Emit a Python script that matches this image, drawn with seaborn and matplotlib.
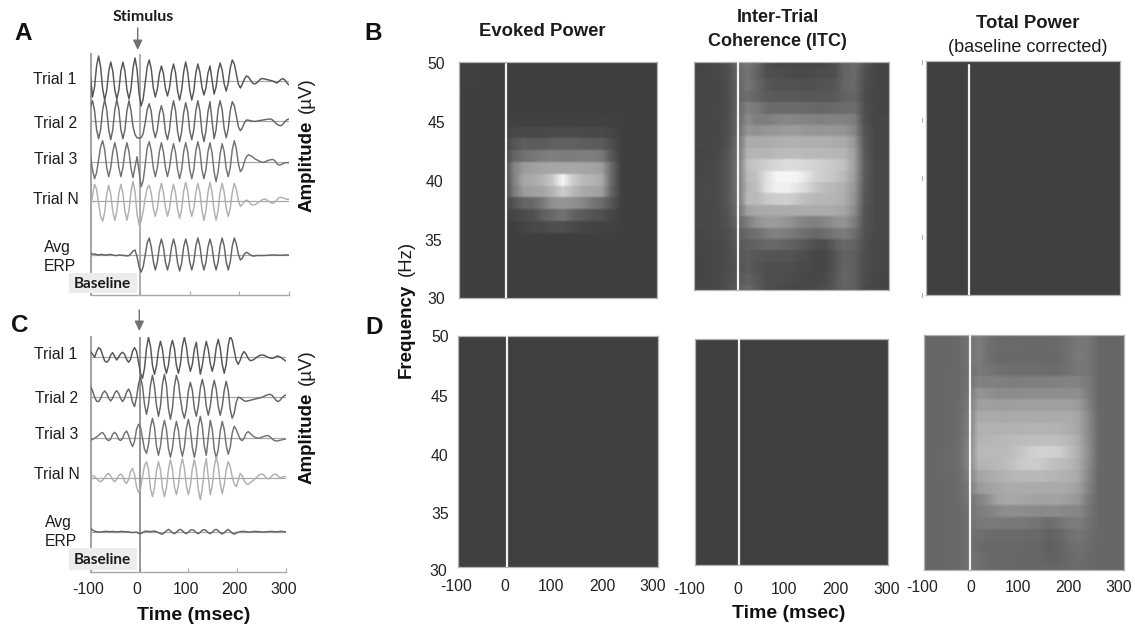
import numpy as np
import matplotlib
matplotlib.use("Agg")
import matplotlib.pyplot as plt
from matplotlib.transforms import ScaledTranslation
import seaborn as sns

# ---------- data: waveforms (deviation from each trial's baseline) ----------
A_trial1 = [4,-16,-6,15,25,14,-8,-19,-9.5,9.5,19,10,-9,-18,-9,10,19,10,-9,-18,-8,13,23,11,-13,-25,-18,-2,14,21,12,-7,-16,-8,7,15,7.5,-7.5,-15,-7,9,17,8,-10,-19,-9,9,19,9,-9,-19,-10,8,17,9,-6,-14,-7,8,15,1,-13,-6,10,18,11,-3,-10,-2,13,21,17,7,-3,-7,-3,2,5,4,1,-2,-3,-2,0,2,2.5,2,1.5,1,0.5,0,-1,-2,-0.5,1.5,2.5,1,-2,-4]
A_trial2 = [14,20,10,-9,-18,-9,11,21,11,-9,-19,-9,11,21,11,-9,-18,-9,10,20,10,-6,-14,-17,-17.5,-17,-13,-2,11,17,9,-9,-17,-9,7,15,7,-11,-19,-9,10,20,10,-11,-21,-11,8,18,9,-10,-19,-9,10,20,10,-11,-21,-10,9,19,0,-18,-9,11,20,11,-8,-17,-8,10,19,15,5,-6,-10,-7,-2,0.7,0.5,0,-0.5,-0.7,-0.5,0,0.3,0.6,1,1.3,1.6,1.7,0.5,-1.5,-3.5,-4.7,-5,-3.5,-1,1,1.7]
A_trial3 = [6,-8,-17,-11,2,15,21,12,-6,-15,-6,10,19,10,-6,-15,-6,10,19,10,-7,-16,-5,5,-10,-25,-19,-3,14,20,11,-6,-15,-6,10,19,10,-6,-15,-6,9,18,9,-8,-17,-8,10,19,10,-8,-17,-8,11,20,11,-8,-17,-8,10,19,9,-10,-20,-10,8,18,10,-7,-15,-6,12,21,13,-2,-10,-7,0,5,7,6,5,3,2,1,0,-0.7,-0.3,0.6,1.5,2,2.3,1,-2,-3.3,-3,-2,-1,-1,-1]
A_trialN = [-8,6,17,12,-2,-15,-20,-11,7,16,7,-10,-19,-10,8,17,8,-10,-19,-9,10,20,9,-13,-24,-20,-10,3,13,16,8,-7,-15,-7,9,18,9,-6,-15,-7,8,17,8,-8,-17,-8,10,19,10,-7,-15,-7,9,18,9,-9,-19,-9,9,19,9,-9,-19,-9,9,18,9,-7,-15,-7,9,18,12,1,-5,-3,0,1.3,0,-2.5,-3.7,-3.5,-2.5,-1,0.5,1.7,2.3,1.5,0,-1.5,-2,-1,1.5,3.5,4,3.5,2.5,2,2]
A_avg = [1.5,1,1,0.5,0,0.5,0.5,0,0,0.5,0.5,0,-0.5,-0.5,0,0,-0.5,-0.5,-1,-0.5,1.5,4,5,-2,-12,-17,-12,0,12,17,8,-6,-15,-7,8,16,8,-7,-15,-7,8,16,8,-8,-16,-8,8,16,8,-7,-15,-7,9,17,9,-7,-15,-7,8,16,8,-7,-15,-7,9,17,9,-7,-15,-7,9,17,11,1,-5,-3,1,2.7,1.5,0,-1,-1,-0.5,-0.5,-0.5,-0.5,-0.5,-0.3,-0.3,0,0,0,0,-0.3,-0.3,0,0,0,-0.3]

C_trial1 = [5.7,3,0,6,9.7,8,2,-3.5,-5,-3,2,4.7,1,-2.7,0,3.5,5,3,-2,-5,-2,6,9.7,6,-5,-16,-21,-11,9,20,11,-8,-17,-9,7,16,8,-8,-16,-8,9,17,9,-8,-16,-7,11,20,11,-5,-14,-7,8,15,-1,-17,-8,6,16,8,-6,-14,-6,10,18,9,-7,-16,-7,12,21,17,7,-3,-7,-3,3,5.7,3,-1,-3.3,-3,-2,-0.5,1,2,2.3,2,1,0,-0.7,-1,-0.5,0.7,1.3,0.5,-1,-2.5,-3.7]
C_trial2 = [10.7,6,0,-4,-4.3,-1,4,6.3,4,-1,-3.7,-1,4,6.7,4,-1,-4.3,-1,5,8.3,4,-5,-9.3,0,13,21,11,-7,-17,-7,12,22,11,-8,-19,-9,13,23,12,-11,-22,-11,11,22,15,-1,-14,-21,-12,6,15,7,-11,-19,-9,9,18,9,-9,-18,-9,8,17,8,-9,-18,-9,7,16,7,-12,-21,-16,-5,0,-0.5,-2,-3.5,-4,-3.5,-3,-2.5,-2,-1.5,-1,-0.5,0,1,2,2.7,3,2,-0.5,-3,-4.3,-3,-0.5,1.5,2.3]
C_trial3 = [-1.7,-1,0,1.5,3,5,5.7,3,-1,-2.3,-1,4,6,4,-1,-2.3,0,5,7.3,3,-4,-8.3,-3,9,14,11,0,-11,-15,-6,11,20,11,-8,-17,-8,9,18,9,-10,-19,-10,7,17,8,-9,-18,-9,10,19,9,-9,-19,-9,12,22,12,-8,-17,1,18,9,-11,-20,-11,7,17,9,-7,-16,-9,5,12,9,4,-1,-2.3,0,5,6.7,5,3,1.5,0.5,0,0.5,1.2,2,2.5,2.7,1.5,-0.5,-2,-2.7,-2.5,-2,-1.5,-1,-0.7]
C_trialN = [3,2,1,-1,-3,-4,-2.5,0,3,4.3,2,-2,-4,-2,2,3.7,2,-4,-5.7,-2,6,9.3,3,-9,-14.7,-11,1,12,16,8,-11,-19,-10,7,16,8,-10,-19,-10,8,18,9,-9,-17,-8,10,19,10,-8,-17,-8,9,18,8,-12,-22,-11,9,19,1,-17,-8,11,21,12,-6,-16,-7,8,16,11,1,-6,-9,-3,4.3,2,-3,-6,-6.7,-5,-3.5,-2,0,2,3.2,3.7,2.5,0,-1.3,0,2,3.2,3.7,1.5,0,0.5,1,1.3]
C_avg = [3.3,1.5,0.5,0,-0.3,-0.3,0,0.3,0.3,0,0,0.3,0,-0.3,0,0.3,0.3,0,0,-0.3,-0.5,-1,-0.5,-0.5,-1.5,-2,-1,0.3,0.5,0.3,0,0.5,0.5,0,-1,-2,-2.5,-1,1,2.3,1,-1,-2,-0.5,1.5,2.3,1,-1,-2,-0.5,1.5,2,1,-1,-2,-0.5,1.5,2,1,-1,-2,-0.5,1.5,2.3,1,-1,-2.3,-1,1,2.3,0.5,-1.5,-2.5,-1.5,-0.5,0,0.3,0.3,0,-0.3,-0.3,0,0.3,0.3,0,0,-0.3,-0.3,0,0,0.3,0.3,0,0,0,0.3,0.3,0,-0.3]

trial_labels = ["Trial 1", "Trial 2", "Trial 3", "Trial N"]
time_ticks = [-100, 0, 100, 200, 300]
freq_ticks = [50, 45, 40, 35, 30]

# ---------- data: time-frequency maps (grey level; rows 50 Hz -> 30 Hz) ----------
evoked_B = [
 [64]*20, [64]*20, [64]*20, [64]*20, [64]*20,
 [64,64,64,64,64,66,66,66,66,66,66,66,66,66,66,65,64,64,64,64],
 [64,64,64,64,64,72,74,74,74,76,76,76,74,74,74,70,64,64,64,64],
 [64,64,64,64,64,85,95,92,92,96,98,98,94,92,92,78,64,64,64,64],
 [64,64,64,64,64,100,112,118,125,128,125,125,128,128,120,88,64,64,64,64],
 [64,64,64,64,64,128,155,160,165,168,168,168,165,165,158,105,64,64,64,64],
 [64,64,64,64,64,125,165,170,180,200,245,205,185,180,170,105,64,64,64,64],
 [64,64,64,64,64,120,155,160,165,180,205,185,170,165,160,100,64,64,64,64],
 [64,64,64,64,64,85,100,105,120,145,150,145,135,120,110,85,64,64,64,64],
 [64,64,64,64,64,70,75,80,95,105,115,100,90,85,80,70,64,64,64,64],
 [64,64,64,64,64,64,68,72,74,80,80,74,70,68,68,66,64,64,64,64],
 [64]*20, [64]*20, [64]*20, [64]*20, [64]*20, [64]*20,
]
itc_B = [
 [70,70,72,80,104,122,105,80,72,72,72,72,72,72,78,100,108,85,70,68],
 [70,70,72,78,100,118,100,80,78,76,74,74,76,78,80,100,106,82,70,68],
 [72,70,70,78,98,118,104,88,82,84,82,80,82,84,86,102,106,80,70,68],
 [70,70,70,78,98,110,100,92,90,90,90,88,88,88,90,98,102,78,70,68],
 [70,70,72,76,100,128,122,108,106,108,108,106,104,104,106,108,110,80,70,68],
 [72,70,72,78,102,138,128,126,132,135,134,132,130,130,130,130,125,82,70,70],
 [72,70,72,78,104,150,145,150,152,155,156,152,150,150,150,148,135,85,72,70],
 [72,72,72,80,108,172,172,172,175,178,178,176,175,175,172,170,150,88,72,70],
 [70,70,72,85,112,180,182,182,185,188,188,185,185,185,182,180,158,90,72,72],
 [72,72,74,86,115,190,198,208,216,220,220,216,210,205,200,192,160,92,74,72],
 [72,72,75,86,115,185,194,225,245,245,245,232,212,204,198,185,155,92,74,72],
 [74,74,75,86,115,180,190,225,240,240,232,218,198,188,184,175,150,90,74,72],
 [74,74,75,86,112,185,186,200,206,208,200,190,185,183,180,174,146,88,74,72],
 [74,72,74,84,110,160,168,170,172,172,172,172,172,172,170,165,138,85,74,72],
 [74,72,74,82,102,125,145,155,155,150,140,130,128,135,145,148,125,85,74,72],
 [72,72,74,78,92,105,112,125,130,125,118,110,105,110,118,125,110,82,74,72],
 [72,72,72,76,88,95,100,105,105,100,95,88,78,78,95,105,100,80,72,70],
 [70,70,72,76,85,92,88,85,85,85,80,78,70,72,85,98,95,78,72,70],
 [70,70,72,76,82,92,85,78,80,80,76,74,70,72,85,100,95,78,72,70],
 [70,70,72,78,85,98,90,78,78,76,74,72,72,75,88,102,95,78,70,68],
 [70,70,72,78,90,105,92,78,76,74,72,72,74,78,88,100,95,75,70,68],
]
total_D = [
 [103,103,103,106,114,125,112,105,105,105,105,105,105,106,112,120,118,104,102,102],
 [103,103,103,106,114,125,112,108,108,106,106,106,106,108,112,120,118,104,102,102],
 [103,103,103,106,114,125,112,106,106,106,106,106,104,106,112,122,118,104,102,102],
 [103,103,104,106,112,122,118,112,110,110,110,110,108,108,114,120,118,104,102,102],
 [103,103,104,106,114,130,130,128,126,126,128,128,128,130,130,130,122,104,102,102],
 [103,103,104,106,116,150,145,140,140,140,142,142,142,142,142,142,125,105,102,102],
 [103,103,104,107,120,160,160,158,158,160,160,160,160,160,160,155,130,105,102,102],
 [103,103,104,107,124,172,172,170,170,172,172,172,172,172,172,165,138,106,102,102],
 [103,103,104,108,126,178,178,178,178,178,180,180,180,178,175,165,138,106,102,102],
 [103,103,105,108,130,180,182,184,186,188,190,192,192,190,185,172,140,106,102,102],
 [104,104,106,110,132,184,186,186,188,195,205,210,210,208,192,175,142,106,102,102],
 [104,104,106,110,132,180,182,186,190,200,205,205,195,190,185,172,140,106,102,102],
 [104,104,105,108,126,165,170,175,180,185,185,185,182,180,176,168,135,105,102,102],
 [104,104,104,108,120,155,162,168,172,172,172,170,170,170,168,160,130,105,102,102],
 [104,104,104,107,116,130,145,165,168,168,165,162,162,162,158,150,122,104,102,102],
 [104,104,104,106,112,125,130,138,142,142,140,138,138,138,135,135,118,104,102,102],
 [103,103,104,106,110,122,122,122,122,122,118,115,108,115,122,125,115,104,102,102],
 [103,103,104,106,110,112,108,108,108,108,105,105,98,102,112,118,110,104,102,102],
 [103,103,104,106,110,108,104,105,105,105,102,102,96,100,108,112,108,104,102,102],
 [103,103,104,106,112,112,106,105,105,104,102,102,98,100,106,110,106,104,102,102],
 [103,103,104,106,114,112,106,104,104,104,104,104,102,102,106,108,106,104,102,102],
]
empty_map = [[64]*20 for _ in range(21)]

# ---------- figure ----------
W, H = 1135, 627
sns.set_theme(style="white")
plt.rcParams["font.family"] = ["Liberation Sans", "DejaVu Sans"]
fig = plt.figure(figsize=(W/100, H/100), dpi=100, facecolor="white")


def ax_px(l, t, r, b, **kw):
    return fig.add_axes([l/W, 1-b/H, (r-l)/W, (b-t)/H], **kw)


def soften(img, dpi):
    """Resampling blur of the source bitmap: wide along time, slight along frequency."""
    out = img.astype(float)
    for axis, k in ((1, 10), (0, 3)):
        pad = [(0, 0)]*3
        pad[axis] = (k, k)
        c = np.cumsum(np.pad(out, pad, mode="edge"), axis=axis)
        hi = np.take(c, np.arange(k + k//2, c.shape[axis] - k + k//2), axis=axis)
        lo = np.take(c, np.arange(k//2, c.shape[axis] - 2*k + k//2), axis=axis)
        out = (hi - lo)/k
    return out, 0, 0


GRID = "#a8a8a8"


def wave_panel(box, zero_col, traces, baselines, colors, labels_on):
    l, t, r, b = box
    ax = ax_px(l, t, r, b)
    ax.set_xlim(-100, 300)
    ax.set_ylim(0, b - t)
    ax.patch.set_alpha(0)
    times = np.linspace(-100, 300, len(traces[0]))
    for vals, base, col in zip(traces, baselines, colors):
        y0 = b - base
        ax.axhline(y0, color="#a8a8a8", lw=0.9, zorder=1)
        sns.lineplot(x=times, y=np.asarray(vals) + y0, ax=ax, color=col, lw=1.05,
                     errorbar=None, zorder=3)
    ax.axvline(0, color=zero_col, lw=1.2, zorder=2)
    for s in ("top", "right"):
        ax.spines[s].set_visible(False)
    ax.spines["left"].set_color("#9a9a9a")
    ax.spines["left"].set_linewidth(1.3)
    ax.spines["bottom"].set_color(GRID)
    ax.spines["bottom"].set_linewidth(1.0)
    ax.set_yticks([])
    ax.set_xticks(time_ticks)
    ax.tick_params(axis="x", direction="in", length=3, color=GRID, width=0.8,
                   labelsize=11.3, labelcolor="#222222", pad=7.5, bottom=True)
    ax.set_xlabel("")
    ax.set_ylabel("")
    if labels_on:
        ax.set_xticklabels([str(v) for v in time_ticks])
        for lab in ax.get_xticklabels():
            lab.set_transform(lab.get_transform() + ScaledTranslation(-2.4/100, 0, fig.dpi_scale_trans))
    else:
        ax.set_xticklabels([])
    return ax


def map_panel(box, data, zero_px, line_top=0.0, xdx=None, ylab=None, blur=True):
    l, t, r, b = box
    ax = ax_px(l, t, r, b)
    sns.heatmap(np.asarray(data, float), ax=ax, cmap="gray", vmin=0, vmax=255, cbar=False,
                xticklabels=False, yticklabels=False)
    if blur:
        ax.collections[0].set_agg_filter(soften)
    ax.set_xlim(0, 20)
    ax.set_ylim(20.5, 0.5)
    ax.axvline((zero_px - l)/(r - l)*20, ymin=0, ymax=1 - line_top/(b - t),
               color="#f2f2f2", lw=1.6, zorder=5)
    for s in ax.spines.values():
        s.set_visible(True)
        s.set_color("#b4b4b4")
        s.set_linewidth(0.9)
    ax.set_xticks([0, 5, 10, 15, 20])
    ax.set_yticks([0.5, 5.5, 10.5, 15.5, 20.5])
    ax.tick_params(axis="both", length=0, labelcolor="#222222", labelsize=11.3)
    ax.tick_params(axis="x", pad=xdx[1] if xdx else 0)
    ax.set_xticklabels([str(v) for v in time_ticks] if xdx else [])
    ax.set_yticklabels([str(v) for v in freq_ticks] if ylab else [])
    ax.tick_params(axis="y", pad=ylab[1] if ylab else 6)
    if xdx:
        for lab, dx in zip(ax.get_xticklabels(), xdx[0]):
            lab.set_transform(lab.get_transform() + ScaledTranslation(dx/100, 0, fig.dpi_scale_trans))
    if ylab:
        for lab, (dx, dy) in zip(ax.get_yticklabels(), ylab[0]):
            lab.set_transform(lab.get_transform() + ScaledTranslation(dx/100, dy/100, fig.dpi_scale_trans))
    return ax


# waveform panels
wave_colors = ["#555555", "#666666", "#727272", "#b0b0b0", "#646464"]
wave_panel((90.5, 54, 289, 295), "#a0a0a0",
           [A_trial1, A_trial2, A_trial3, A_trialN, A_avg],
           [81, 120.7, 161.7, 201.3, 255], wave_colors, False)
wave_panel((90.7, 337, 286, 572), "#858585",
           [C_trial1, C_trial2, C_trial3, C_trialN, C_avg],
           [357.3, 397.3, 438.3, 477.7, 531.7], wave_colors, True)

# time-frequency panels
map_panel((459.3, 61.7, 656.7, 297.7), evoked_B, 506, line_top=2.5,
          ylab=([(0, -1), (0, -1.5), (-2, -1), (-3, -1), (0, 0)], 10))
map_panel((693.7, 62.3, 889.3, 290.3), itc_B, 737.7)
map_panel((926, 61.3, 1120, 295), empty_map, 968.7, line_top=4, blur=False)
map_panel((458.3, 336, 658.3, 566.7), empty_map, 507.3, xdx=([-2.6, -3.6, -7.3, -6.3, -5.3], 9),
          ylab=([(0, 0), (0, -2.7), (0, -4), (0, -3.7), (-1, -3.3)], 7), blur=False)
map_panel((695, 338.7, 888.3, 565.3), empty_map, 738.7, xdx=([-6, -5.6, -7.7, -5, -1.3], 12), blur=False)
map_panel((924.3, 334.7, 1124, 570), total_D, 970, line_top=1,
          xdx=([-2.3, -3.6, -6.2, -6, -5], 7))

# annotation layer in pixel coordinates
ov = fig.add_axes([0, 0, 1, 1], zorder=20)
ov.set_xlim(0, W)
ov.set_ylim(H, 0)
ov.axis("off")
ov.patch.set_alpha(0)
ink = "#1c1c1c"


def T(x, y, s, size=11.3, weight="normal", rot=0, family=None, color=ink):
    ov.text(x, y, s, fontsize=size, fontweight=weight, rotation=rot, ha="center", va="center",
            color=color, family=family or ["Liberation Sans", "DejaVu Sans"])


for x, y, s in [(22.7, 34, "A"), (20, 325.7, "C"), (372.7, 34, "B"), (374, 328, "D")]:
    T(x, y, s, size=17.5, weight="bold", color="#111111")

for (x, y), s in zip([(55, 80), (55.8, 123), (55.8, 160), (55.8, 200)], trial_labels):
    T(x, y, s)
T(57, 247.7, "Avg")
T(60, 266.7, "ERP")
for (x, y), s in zip([(56, 354.3), (57, 398.3), (57, 434.3), (56.7, 474.3)], trial_labels):
    T(x, y, s)
T(58, 522.3, "Avg")
T(60.8, 541, "ERP")

for x, y in [(306.7, 166), (306.7, 438)]:
    T(x, y, "Amplitude", size=13.5, weight="bold", rot=90, color="#111111")
for x, y in [(306.7, 95), (306.7, 367)]:
    T(x, y, "(µV)", size=13.5, rot=90)

for x, y in [(194, 615), (789, 614)]:
    T(x, y, "Time (msec)", size=14, weight="bold", color="#111111")
T(406.7, 330.5, "Frequency", size=13.5, weight="bold", rot=90, color="#111111")
T(406.7, 258, "(Hz)", size=13.3, rot=90)

T(542.7, 32, "Evoked Power", size=13.3, weight="bold")
T(777.7, 18, "Inter-Trial", size=13, weight="bold")
T(777.7, 42, "Coherence (ITC)", size=13, weight="bold")
T(1027.7, 24, "Total Power", size=13.3, weight="bold")
T(1027.7, 48, "(baseline corrected)", size=13)

T(143.7, 17, "Stimulus", size=11.5, weight="bold", family="Lato")
for x0, y0, y1 in [(137.7, 28, 50), (139.3, 310, 331)]:
    ov.annotate("", xy=(x0, y1), xytext=(x0, y0),
                arrowprops=dict(arrowstyle="-|>,head_width=0.2,head_length=0.42", color="#707070",
                                lw=1.0, mutation_scale=14, shrinkA=0, shrinkB=0))

for y0, y1, yt in [(273, 293, 284), (548, 570, 560)]:
    ov.fill_between([69, 136.5], y0, y1, color="#ececec", lw=0)
    T(102.5, yt, "Baseline", size=11, weight="bold", family="Lato")

# faint remnants of cropped ticks left of the top-right map
for yy in [62, 120, 178, 237, 295]:
    ov.plot([921.7, 921.7], [yy - 2, yy + 2], color="#b0b0b0", lw=0.8)

fig.savefig("out.png", dpi=100, facecolor="white")
